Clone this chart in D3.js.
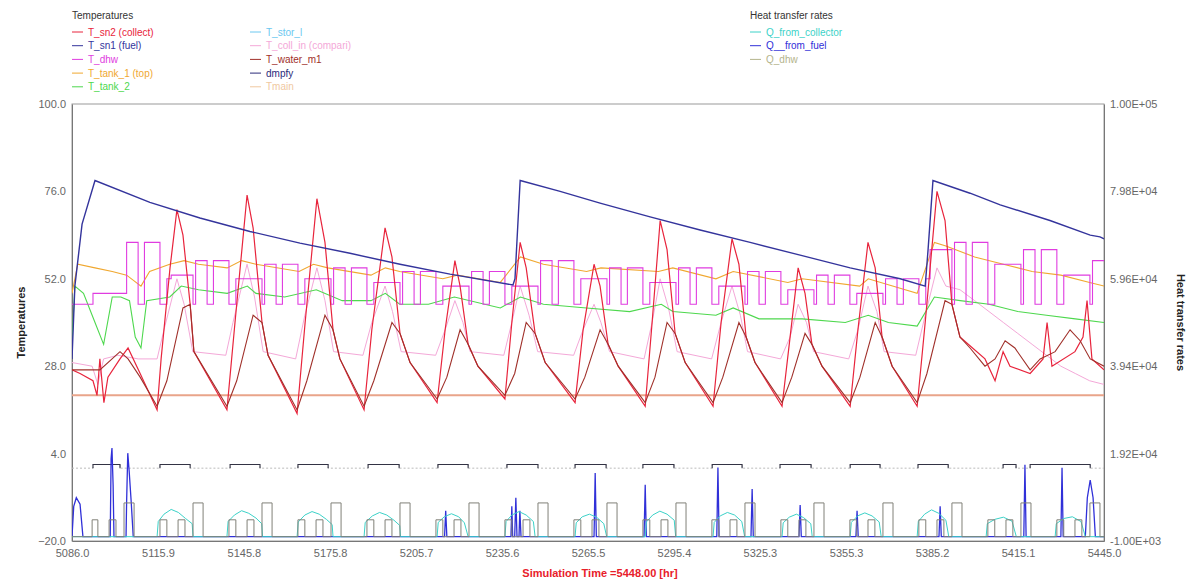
<!DOCTYPE html>
<html>
<head>
<meta charset="utf-8">
<style>
body { margin: 0; background: #fff; font-family: "Liberation Sans", Arial, sans-serif; }
.axis text { fill: #666; font-size: 11px; font-family: "Liberation Sans", Arial, sans-serif; }
.axis .domain { stroke: #777; }
.lgd text { font-size: 10px; }
.series { fill: none; }
</style>
<script src="https://d3js.org/d3.v7.min.js"></script>
</head>
<body>
<script>
// ---- data (time in hr, temperatures in C, rates in kJ/hr) ----
var tempTicks = [-20, 4, 28, 52, 76, 100];
var heatTicks = [-1000, 19200, 39400, 59600, 79800, 100000];
var timeTicks = [5086.0, 5115.9, 5145.8, 5175.8, 5205.7, 5235.6, 5265.5, 5295.4, 5325.3, 5355.3, 5385.2, 5415.1, 5445.0];

var tempNames = ["T_sn2 (collect)", "T_sn1 (fuel)", "T_dhw", "T_tank_1 (top)", "T_tank_2",
                 "T_stor_l", "T_coll_in (compari)", "T_water_m1", "dmpfy", "Tmain"];
var heatNames = ["Q_from_collector", "Q__from_fuel", "Q_dhw"];

var tSn1 = [[5086.0,30],[5087.0,50],[5089.5,67],[5094.0,79],[5113.1,73],[5130.5,68.7],[5147.9,65],
  [5165.3,61.8],[5182.7,59],[5200.1,56],[5217.5,53.3],[5239.4,50.3],[5240.1,52],[5241.9,79],
  [5255.8,76],[5269.7,72.8],[5287.1,69],[5304.5,65.4],[5321.9,62],[5339.3,58.5],[5356.7,55],
  [5374.1,52],[5382.8,50],[5383.8,60],[5385.5,79],[5398.4,75.5],[5408.9,72.3],[5426.2,68],
  [5440.2,64],[5443.6,63.5],[5445.0,63]];

var tSn2 = [[5086.0,27],[5088.8,26],[5093.3,24],[5094.7,20],[5095.7,30],[5097.1,18],[5098.5,25],
  [5102.7,30],[5105.5,33],[5109.7,26],
  [5115.6,16],[5117.0,30],[5120.1,55],[5122.5,71],[5124.6,64],[5127.1,45],[5128.4,32],
  [5139.9,16],[5142.7,40],[5146.9,75],[5149.0,66],[5152.1,40],[5154.2,31],
  [5164.3,15],[5167.1,40],[5171.2,74],[5174.0,62],[5176.8,38],[5179.2,30],
  [5187.6,16],[5190.3,38],[5194.9,66],[5197.3,58],[5200.1,37],[5203.6,29],
  [5213.0,18],[5215.8,38],[5219.2,57],[5221.0,50],[5223.8,34],[5227.2,28],
  [5236.6,19],[5239.0,40],[5241.9,62],[5244.0,55],[5247.1,37],[5250.6,29],
  [5261.0,18],[5263.8,38],[5267.6,56],[5269.7,50],[5272.5,34],[5276.0,28],
  [5285.4,17],[5287.8,40],[5290.6,68],[5293.0,60],[5295.8,37],[5299.3,29],
  [5309.0,17],[5311.8,40],[5315.6,63],[5318.0,56],[5320.5,36],[5323.6,29],
  [5333.0,17],[5335.8,36],[5338.6,55],[5341.0,48],[5343.4,34],[5346.9,28],
  [5356.7,17],[5359.4,38],[5362.9,62],[5365.4,55],[5367.8,36],[5371.3,28],
  [5380.0,17],[5382.8,40],[5386.9,76],[5389.7,68],[5392.1,45],[5394.9,36],
  [5403.6,30],[5407.1,24],[5409.9,32],[5412.3,28],[5419.3,26],
  [5423.8,30],[5425.2,40],[5426.9,28],[5434.9,32],[5437.7,36],[5439.1,46],[5440.8,30],[5445.0,27]];

var tWater = [[5086.0,27],[5095.7,27],[5102.7,32],[5105.5,30],[5109.7,25],
  [5115.6,17],[5119.0,24],[5124.6,44],[5127.1,45],[5128.4,32],
  [5139.9,17],[5143.3,24],[5149.0,42],[5152.1,40],[5154.2,31],
  [5164.3,16],[5167.7,24],[5174.0,42],[5176.8,38],[5179.2,30],
  [5187.6,17],[5191.0,24],[5197.3,40],[5200.1,37],[5203.6,29],
  [5213.0,19],[5216.4,25],[5221.0,38],[5223.8,34],[5227.2,28],
  [5236.6,20],[5240.0,26],[5244.0,40],[5247.1,37],[5250.6,29],
  [5261.0,19],[5264.4,25],[5269.7,38],[5272.5,34],[5276.0,28],
  [5285.4,18],[5288.8,25],[5293.0,40],[5295.8,37],[5299.3,29],
  [5309.0,18],[5312.4,25],[5318.0,40],[5320.5,36],[5323.6,29],
  [5333.0,18],[5336.4,25],[5341.0,37],[5343.4,34],[5346.9,28],
  [5356.7,18],[5360.1,25],[5365.4,40],[5367.8,36],[5371.3,28],
  [5380.0,18],[5383.4,26],[5389.7,46],[5392.1,45],[5394.9,36],[5398.4,33],
  [5403.6,28],[5407.1,30],[5410.6,35],[5414.0,33],[5419.3,27],[5422.8,30],
  [5428.0,32],[5433.2,38],[5436.7,35],[5440.2,30],[5445.0,28]];

var tSol = [[5086,29],[5093,28],[5095,23],[5097,30],[5102,31],[5109,30],
  [5115.6,30],[5118,38],[5122.5,52],[5125,45],[5128,32],[5139.5,31],
  [5142,40],[5146.9,56],[5149.5,47],[5152.5,32],[5163.8,30],
  [5167,42],[5171.2,55],[5174,46],[5177,32],[5187.2,31],
  [5190.3,40],[5194.9,50],[5197.5,43],[5200.5,32],[5212.5,31],
  [5215.8,38],[5219.2,46],[5222,40],[5224.5,32],[5236.2,31],
  [5239.0,40],[5241.9,50],[5245,42],[5248,32],[5260.5,31],
  [5263.8,38],[5267.6,45],[5270,40],[5273,32],[5285,30],
  [5287.8,40],[5290.6,52],[5293.5,44],[5296.5,32],[5308.5,30],
  [5311.8,40],[5315.6,50],[5318.5,42],[5321,32],[5332.5,30],
  [5335.8,36],[5338.6,45],[5341.5,40],[5344,32],[5356.2,30],
  [5359.4,38],[5362.9,50],[5366,43],[5368.5,32],[5379.5,31],
  [5382.8,42],[5386.9,55],[5390,50],[5394.9,49],[5400,46],[5405,43],[5410,40],
  [5415,37],[5420,34],[5425,31],[5430,28],[5435,26],[5440,24],[5445,23]];

var tTank1 = [[5086,48],[5088,56],[5094,55],[5100,54],[5105,53],[5110,50],[5113,54],[5120,56],
  [5125,57],[5130,56],[5140,55],[5145,57],[5150,56],[5165,54],[5170,56],[5175,55],[5190,53],
  [5195,55],[5200,54],[5215,52],[5220,53],[5235,51],[5242,58],[5250,56],[5265,54],[5270,55],
  [5290,54],[5295,55],[5310,52],[5316,54],[5335,51],[5340,52],[5360,50],[5363,52],[5380,48],
  [5386,62],[5390,61],[5400,58],[5410,56],[5420,54],[5430,53],[5440,51],[5445,50]];

var tTank2 = [[5086,35],[5087,50],[5090,48],[5094,40],[5097,34],[5100,47],[5103,47],[5106,46],
  [5108,36],[5110,33],[5112,46],[5120,47],[5124,50],[5130,49],[5140,48],[5147,50],[5150,48],
  [5160,47],[5171,49],[5180,46],[5190,46],[5195,48],[5200,45],[5210,45],[5219,47],[5235,44],
  [5242,47],[5250,45],[5265,44],[5280,43],[5291,45],[5295,43],[5310,42],[5316,44],[5325,41],
  [5340,41],[5355,40],[5363,42],[5370,40],[5380,39],[5386,47],[5395,46],[5405,45],[5415,43],
  [5425,42],[5435,41],[5445,40]];

var tDhw = [[5086,45],[5093.3,48],[5105.0,62],[5109.0,45],[5111.2,62],
  [5116.6,45],[5119.0,52],[5120.5,53],[5128.1,45],[5129.0,57],[5133.0,45],[5135.2,57],
  [5140.6,45],[5143.0,52],[5152.1,45],[5153.0,56],[5157.0,45],[5159.2,56],
  [5164.6,45],[5167.0,52],[5176.1,45],[5177.0,55],[5181.0,45],[5183.2,55],
  [5188.6,45],[5191.0,51],[5200.1,45],[5201.0,54],[5205.0,45],[5207.2,54],
  [5212.6,45],[5215.0,50],[5224.1,45],[5225.0,54],[5229.0,45],[5231.2,54],
  [5236.6,45],[5239.0,50],[5248.1,45],[5249.0,57],[5253.0,45],[5255.2,57],
  [5260.6,45],[5263.0,52],[5272.1,45],[5273.0,55],[5277.0,45],[5279.2,55],
  [5284.6,45],[5287.0,51],[5296.1,45],[5297.0,55],[5301.0,45],[5303.2,55],
  [5308.6,45],[5311.0,50],[5320.1,45],[5321.0,54],[5325.0,45],[5327.2,54],
  [5332.6,45],[5335.0,49],[5344.1,45],[5345.0,53],[5349.0,45],[5351.2,53],
  [5356.6,45],[5359.0,48],[5368.1,45],[5369.0,52],[5373.0,45],[5375.2,52],
  [5380.6,45],[5383.0,52],[5384.5,60],[5392.1,45],[5393.0,62],[5397.0,45],[5399.2,62],
  [5404.6,45],[5407.0,56],[5416.1,45],[5417.0,60],[5421.0,45],[5423.2,60],
  [5428.6,45],[5431.0,53],[5440.1,45],[5441.0,57],[5445.0,57]];

var tMain = [[5086,20],[5445,20]];

var dmpfyOn = [[5093.3,5102.7],[5116.6,5127.1],[5141.0,5151.4],[5164.6,5175.1],[5189.0,5199.8],
  [5213.3,5223.8],[5237.3,5248.1],[5261.0,5271.8],[5284.6,5295.4],[5308.7,5319.1],
  [5332.3,5343.1],[5356.7,5367.1],[5380.3,5390.8],[5409.9,5414.4],[5419.3,5440.2]];

var qDhw = [[5093.0,5095.0,3900],[5098.9,5101.3,3900],[5104.1,5107.6,7800],
  [5116.6,5119.0,3900],[5122.9,5125.3,3900],[5128.1,5131.6,7800],
  [5140.6,5143.0,3900],[5146.9,5149.3,3900],[5152.1,5155.6,7800],
  [5164.6,5167.0,3900],[5170.9,5173.3,3900],[5176.1,5179.6,7800],
  [5188.6,5191.0,3900],[5194.9,5197.3,3900],[5200.1,5203.6,7800],
  [5212.6,5215.0,3900],[5218.9,5221.3,3900],[5224.1,5227.6,7800],
  [5236.6,5239.0,3900],[5242.9,5245.3,3900],[5248.1,5251.6,7800],
  [5260.6,5263.0,3900],[5266.9,5269.3,3900],[5272.1,5275.6,7800],
  [5284.6,5287.0,3900],[5290.9,5293.3,3900],[5296.1,5299.6,7800],
  [5308.6,5311.0,3900],[5314.9,5317.3,3900],[5320.1,5323.6,7800],
  [5332.6,5335.0,3900],[5338.9,5341.3,3900],[5344.1,5347.6,7800],
  [5356.6,5359.0,3900],[5362.9,5365.3,3900],[5368.1,5371.6,7800],
  [5380.6,5383.0,3900],[5386.9,5389.3,3900],[5392.1,5395.6,7800],
  [5404.6,5407.0,3900],[5410.9,5413.3,3900],[5416.1,5419.6,7800],
  [5428.6,5431.0,3900],[5434.9,5437.3,3900],[5440.1,5443.6,7800]];

var qColl = [[5086,0],
  [5115.6,0],[5116.0,3500],[5118.0,5200],[5120.5,6300],[5123.0,5600],[5125.5,4200],[5127.8,3000],[5128.1,0],
  [5139.9,0],[5140.3,3500],[5142.5,5000],[5145.0,6000],[5147.5,5400],[5150.0,4300],[5152.0,3000],[5152.3,0],
  [5164.3,0],[5164.7,3400],[5167.0,5000],[5169.5,5800],[5172.0,5200],[5174.5,4000],[5176.5,2800],[5176.8,0],
  [5187.6,0],[5188.0,3300],[5190.5,4800],[5193.0,5600],[5195.5,5000],[5198.0,3800],[5200.0,2600],[5200.3,0],
  [5213.0,0],[5213.4,3300],[5215.5,4600],[5218.0,5300],[5220.5,4600],[5222.5,3200],[5223.8,0],
  [5236.6,0],[5237.0,3500],[5239.0,5000],[5241.5,5800],[5244.0,5000],[5246.5,3500],[5247.1,0],
  [5261.0,0],[5261.4,3200],[5263.5,4600],[5266.0,5200],[5268.5,4500],[5271.0,3000],[5272.0,0],
  [5285.4,0],[5285.8,3400],[5288.0,5000],[5290.5,5900],[5293.0,5200],[5295.5,3800],[5296.0,0],
  [5309.0,0],[5309.4,3300],[5311.5,4800],[5314.0,5600],[5316.5,5000],[5319.0,3500],[5320.0,0],
  [5333.0,0],[5333.4,3200],[5335.5,4500],[5338.0,5200],[5340.5,4400],[5343.0,3000],[5343.5,0],
  [5356.7,0],[5357.1,3300],[5359.3,4800],[5361.8,5500],[5364.3,4800],[5366.8,3400],[5367.5,0],
  [5380.0,0],[5380.4,3500],[5382.6,5200],[5385.0,6200],[5387.5,5400],[5390.0,3800],[5391.0,0],
  [5404.0,0],[5404.4,3000],[5407.0,4000],[5410.0,4500],[5413.0,3600],[5414.5,0],
  [5428.0,0],[5428.4,3000],[5431.0,4200],[5434.0,4600],[5437.0,3500],[5438.5,0],[5445,0]];

var qFuel = [[5086,0],[5086.6,7000],[5087.5,9000],[5088.8,7500],[5089.8,0],
  [5099.3,0],[5099.6,18000],[5099.9,20500],[5100.3,12000],[5100.6,0],
  [5104.8,0],[5105.0,8000],[5105.4,19300],[5105.9,15000],[5106.6,8000],[5107.3,0],
  [5215.6,0],[5216.0,6000],[5216.4,0],
  [5238.7,0],[5239.0,7000],[5239.3,0],[5240.0,0],[5240.4,9000],[5240.8,0],[5241.5,0],[5241.8,6000],[5242.2,0],
  [5267.6,0],[5268.0,14700],[5268.4,0],[5285.0,0],[5285.4,12000],[5285.8,0],
  [5310.3,0],[5310.7,16000],[5311.1,0],[5322.2,0],[5322.6,11000],[5323.0,0],
  [5338.9,0],[5339.3,7300],[5339.7,0],[5358.7,0],[5359.1,6000],[5359.5,0],
  [5387.6,0],[5388.0,7000],[5388.4,0],[5417.1,0],[5417.5,16600],[5417.9,0],
  [5430.0,0],[5430.4,15900],[5430.8,0],
  [5438.5,0],[5439.2,9000],[5440.2,13100],[5441.2,9000],[5442.0,0],[5445,0]];

// ---- styles ----
var tempColors = ["#e8243c", "#34349c", "#e03ce0", "#f0a830", "#4ed84e",
                  "#6cc8f0", "#f4a8d8", "#a0302a", "#2a2a7a", "#f0c8a0"];
var heatColors = ["#3cd2c8", "#3030d8", "#b4b48c"];

var W = 1197, H = 582;
var m = {top: 104, right: 93, bottom: 41, left: 72};
var pw = W - m.left - m.right, ph = H - m.top - m.bottom;

var x = d3.scaleLinear().domain([5086, 5445]).range([0, pw]);
var yT = d3.scaleLinear().domain([-20, 100]).range([ph, 0]);
var yQ = d3.scaleLinear().domain([-1000, 100000]).range([ph, 0]);

var svg = d3.select("body").append("svg").attr("width", W).attr("height", H);
var g = svg.append("g").attr("transform", "translate(" + m.left + "," + m.top + ")");

g.append("clipPath").attr("id", "clip").append("rect").attr("width", pw).attr("height", ph);
g.append("rect").attr("width", pw).attr("height", ph)
  .attr("fill", "none").attr("stroke", "#9a9a9a");

function sci(v) {
  var s = v.toExponential(2).toUpperCase();
  return s.replace(/E([+-])(\d)$/, function(a, sg, d) { return "E" + sg + "0" + d; });
}

g.append("g").attr("class", "axis")
  .call(d3.axisLeft(yT).tickValues(tempTicks).tickFormat(d3.format(".1f")).tickSize(0).tickPadding(6));
g.append("g").attr("class", "axis").attr("transform", "translate(" + pw + ",0)")
  .call(d3.axisRight(yQ).tickValues(heatTicks).tickFormat(sci).tickSize(0).tickPadding(6));
g.append("g").attr("class", "axis").attr("transform", "translate(0," + ph + ")")
  .call(d3.axisBottom(x).tickValues(timeTicks).tickFormat(d3.format(".1f")).tickSize(0).tickPadding(8));

var lineT = d3.line().x(function(d) { return x(d[0]); }).y(function(d) { return yT(d[1]); });
var stepT = d3.line().curve(d3.curveStepAfter).x(function(d) { return x(d[0]); }).y(function(d) { return yT(d[1]); });
var lineQ = d3.line().x(function(d) { return x(d[0]); }).y(function(d) { return yQ(d[1]); });

var plot = g.append("g").attr("clip-path", "url(#clip)");
function draw(gen, data, color, w, extra) {
  var p = plot.append("path").datum(data).attr("class", "series")
    .attr("d", gen).attr("stroke", color).attr("stroke-width", w);
  if (extra) extra(p);
  return p;
}

// temperatures
draw(lineT, tMain, "#e9a48a", 2);
draw(lineT, tSol, tempColors[6], 1);
draw(lineT, tTank2, tempColors[4], 1.1);
draw(lineT, tTank1, tempColors[3], 1.1);
draw(stepT, tDhw, tempColors[2], 1.1);
draw(lineT, tSn2, tempColors[0], 1.2);
draw(lineT, tWater, tempColors[7], 1.1);
draw(lineT, tSn1, tempColors[1], 1.4);

// dmpfy (0/1 on the temperature axis)
var dmpfyPts = [[5086, 0]];
dmpfyOn.forEach(function(s) { dmpfyPts.push([s[0], 0], [s[0], 1], [s[1], 1], [s[1], 0]); });
dmpfyPts.push([5445, 0]);
draw(lineT, dmpfyPts, "#bbbbbb", 1, function(p) { p.attr("stroke-dasharray", "2,2"); });
dmpfyOn.forEach(function(s) {
  draw(lineT, [[s[0], 0], [s[0], 1], [s[1], 1], [s[1], 0]], "#333344", 1.1);
});

// heat transfer rates
draw(lineQ, qFuel, heatColors[1], 1.3, function(p) { p.attr("fill", heatColors[1]).attr("fill-opacity", 0.35); });
draw(lineQ, qColl, heatColors[0], 1);
var dhwPts = [[5086, 0]];
qDhw.forEach(function(r) { dhwPts.push([r[0], 0], [r[0], r[2]], [r[1], r[2]], [r[1], 0]); });
dhwPts.push([5445, 0]);
draw(lineQ, dhwPts, "#808078", 1);

// axis titles
svg.append("text").attr("transform", "translate(25," + (m.top + ph / 2) + ") rotate(-90)")
  .attr("text-anchor", "middle").attr("font-size", 11).attr("font-weight", "bold")
  .attr("fill", "#222").text("Temperatures");
svg.append("text").attr("transform", "translate(1177," + (m.top + ph / 2) + ") rotate(90)")
  .attr("text-anchor", "middle").attr("font-size", 11).attr("font-weight", "bold")
  .attr("fill", "#222").text("Heat transfer rates");
svg.append("text").attr("x", 600).attr("y", 577).attr("text-anchor", "middle")
  .attr("font-size", 11).attr("font-weight", "bold").attr("fill", "#e8202a")
  .text("Simulation Time =5448.00 [hr]");

// legends
var lg = svg.append("g").attr("class", "lgd");
function legendItem(x0, y0, name, color) {
  lg.append("line").attr("x1", x0).attr("x2", x0 + 11).attr("y1", y0).attr("y2", y0)
    .attr("stroke", color).attr("stroke-width", 1);
  lg.append("text").attr("x", x0 + 16).attr("y", y0 + 3.5).attr("fill", color).text(name);
}
lg.append("text").attr("x", 72).attr("y", 19).attr("fill", "#333").text("Temperatures");
tempNames.forEach(function(n, i) {
  var col = i < 5 ? 0 : 1, row = i % 5;
  legendItem(col ? 250 : 72, 32 + row * 13.7, n, tempColors[i]);
});
lg.append("text").attr("x", 750).attr("y", 19).attr("fill", "#333").text("Heat transfer rates");
heatNames.forEach(function(n, i) {
  legendItem(750, 32 + i * 13.7, n, heatColors[i]);
});
</script>
</body>
</html>
